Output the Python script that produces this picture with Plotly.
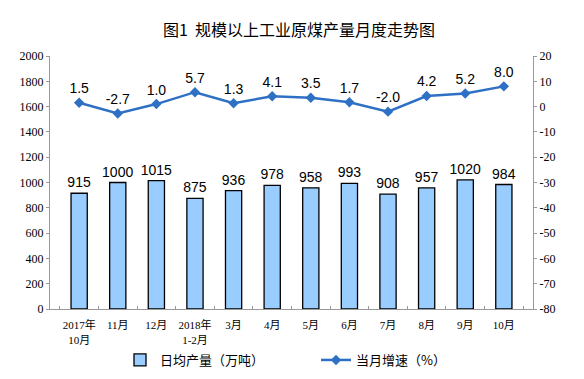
import plotly.graph_objects as go

categories = ["2017年<br>10月", "11月", "12月", "2018年<br>1-2月", "3月", "4月",
              "5月", "6月", "7月", "8月", "9月", "10月"]
daily_output = [915, 1000, 1015, 875, 936, 978, 958, 993, 908, 957, 1020, 984]
growth = [1.5, -2.7, 1.0, 5.7, 1.3, 4.1, 3.5, 1.7, -2.0, 4.2, 5.2, 8.0]
left_ticks = list(range(0, 2001, 200))
right_ticks = list(range(-80, 21, 10))
right_labels = [str(v) for v in right_ticks]

# page body has an 8px margin, so the figure is 8px smaller on each used side
W, H = 576, 371
OFF = 8
plot_top, plot_bottom = 56 - OFF, 309 - OFF
plot_left, plot_right = 50 - OFF, 533 - OFF
plot_h = plot_bottom - plot_top
plot_w = plot_right - plot_left

axis_font = dict(family="Liberation Serif, Noto Sans CJK SC", size=12, color="#000")
label_font = dict(family="Liberation Sans, Arial", size=14, color="#000")

fig = go.Figure()
fig.add_trace(go.Bar(
    x=categories, y=daily_output, name="日均产量（万吨）",
    marker=dict(color="#99CCFF", line=dict(color="#000", width=1.3)),
    width=0.42,
    text=[str(v) for v in daily_output], textposition="outside",
    textfont=label_font, cliponaxis=False, constraintext="none",
))
fig.add_trace(go.Scatter(
    x=categories, y=growth, name="当月增速（%）", yaxis="y2",
    mode="lines+markers+text",
    line=dict(color="#2E70C4", width=2.5),
    marker=dict(symbol="diamond", size=8, color="#2E70C4"),
    text=[f"{v:.1f}" for v in growth], textposition="top center",
    textfont=label_font, cliponaxis=False,
))

fig.update_layout(
    width=W, height=H,
    margin=dict(l=plot_left, r=W - plot_right, t=plot_top, b=H - plot_bottom,
                autoexpand=False),
    paper_bgcolor="white", plot_bgcolor="white",
    title=dict(text="图1  规模以上工业原煤产量月度走势图", x=(299 - OFF) / W,
               xanchor="center", y=1 - (30 - OFF) / H, yanchor="middle",
               font=dict(family="Noto Sans CJK SC", size=16, color="#000")),
    xaxis=dict(type="category", showline=True, linecolor="#999", linewidth=1,
               ticks="inside", tickson="boundaries", ticklen=3, tickcolor="#999",
               tickangle=0, automargin=False, ticklabelstandoff=6,
               tickfont=dict(family="Liberation Serif, Noto Sans CJK SC", size=11, color="#000"),
               showgrid=False, zeroline=False),
    yaxis=dict(range=[0, 2000], tickvals=left_ticks, showline=True, linecolor="#999",
               linewidth=1, ticks="outside", ticklen=3, tickcolor="#999",
               tickfont=axis_font, showgrid=False, zeroline=False, automargin=False),
    yaxis2=dict(range=[-80, 20], tickvals=right_ticks, ticktext=right_labels,
                overlaying="y", side="right",
                showline=True, linecolor="#999", linewidth=1, ticks="outside",
                ticklen=3, tickcolor="#999", tickfont=axis_font,
                showgrid=False, zeroline=False, automargin=False),
    legend=dict(orientation="h", x=(120 - OFF - plot_left) / plot_w, xanchor="left",
                y=-(345 - OFF - plot_bottom) / plot_h, yanchor="top",
                font=dict(family="Noto Sans CJK SC", size=13, color="#000"),
                itemwidth=30, entrywidth=151, entrywidthmode="pixels"),
    showlegend=True,
)

fig.write_html("out.html")
